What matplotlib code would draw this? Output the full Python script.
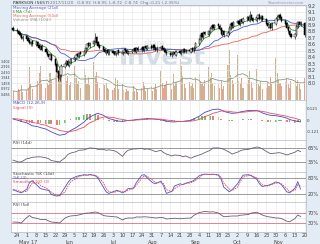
import matplotlib
matplotlib.use("Agg")
import matplotlib.pyplot as plt
import matplotlib.dates as mdates
import numpy as np
import pandas as pd

# daily candles, 21 Apr - 20 Nov 2017 (one row per week)
opens = [8.86,
         8.83, 8.81, 8.78, 8.75, 8.68,
         8.73, 8.70, 8.67, 8.60, 8.65,
         8.59, 8.64, 8.59, 8.53, 8.58,
         8.53, 8.49, 8.45, 8.38, 8.44,
         8.37, 8.29, 8.19, 8.06, 8.12,
         8.25, 8.29, 8.35, 8.27, 8.31,
         8.36, 8.39, 8.45, 8.41, 8.48,
         8.44, 8.49, 8.54, 8.62, 8.57,
         8.60, 8.64, 8.71, 8.63, 8.59,
         8.56, 8.53, 8.46, 8.51, 8.45,
         8.50, 8.48, 8.44, 8.47, 8.51,
         8.45, 8.48, 8.53, 8.51, 8.46,
         8.48, 8.50, 8.54, 8.49, 8.55,
         8.51, 8.56, 8.51, 8.57, 8.53,
         8.58, 8.54, 8.59, 8.55, 8.51,
         8.54, 8.57, 8.54, 8.52, 8.49,
         8.47, 8.43, 8.45, 8.49, 8.44,
         8.50, 8.46, 8.49, 8.53, 8.48,
         8.52, 8.49, 8.54, 8.50, 8.54,
         8.61, 8.67, 8.77, 8.71, 8.79,
         8.75, 8.79, 8.84, 8.90, 8.85,
         8.91, 8.89, 8.85, 8.75, 8.81,
         8.73, 8.77, 8.85, 8.93, 8.87,
         8.93, 8.97, 8.91, 8.99, 8.94,
         8.99, 9.03, 8.97, 9.05, 9.01,
         8.96, 9.01, 9.06, 8.99, 9.04,
         8.99, 8.93, 8.87, 8.91, 8.85,
         8.92, 8.99, 9.02, 9.06, 9.02,
         8.97, 8.93, 8.87, 8.81, 8.76,
         8.71, 8.75, 8.87, 8.95, 8.91,
         8.93]
highs = [8.88,
         8.85, 8.83, 8.80, 8.77, 8.74,
         8.75, 8.72, 8.69, 8.66, 8.67,
         8.66, 8.66, 8.61, 8.59, 8.60,
         8.55, 8.51, 8.47, 8.46, 8.46,
         8.39, 8.31, 8.21, 8.15, 8.29,
         8.33, 8.36, 8.37, 8.35, 8.39,
         8.42, 8.46, 8.47, 8.49, 8.50,
         8.52, 8.57, 8.62, 8.64, 8.64,
         8.67, 8.77, 8.73, 8.65, 8.61,
         8.58, 8.55, 8.52, 8.53, 8.51,
         8.52, 8.50, 8.50, 8.52, 8.53,
         8.50, 8.54, 8.55, 8.53, 8.51,
         8.53, 8.55, 8.56, 8.56, 8.57,
         8.57, 8.58, 8.58, 8.59, 8.59,
         8.60, 8.60, 8.61, 8.57, 8.57,
         8.58, 8.59, 8.56, 8.54, 8.51,
         8.49, 8.48, 8.50, 8.51, 8.51,
         8.52, 8.52, 8.54, 8.55, 8.53,
         8.54, 8.55, 8.56, 8.57, 8.64,
         8.70, 8.77, 8.79, 8.80, 8.81,
         8.82, 8.87, 8.91, 8.92, 8.92,
         8.93, 8.91, 8.87, 8.82, 8.83,
         8.80, 8.88, 8.94, 8.95, 8.96,
         8.98, 8.99, 9.00, 9.01, 9.02,
         9.04, 9.05, 9.12, 9.07, 9.03,
         9.04, 9.07, 9.08, 9.05, 9.06,
         9.01, 8.95, 8.92, 8.93, 8.95,
         9.02, 9.05, 9.07, 9.08, 9.04,
         8.99, 8.95, 8.89, 8.83, 8.78,
         8.78, 8.90, 8.96, 8.97, 8.97,
         8.95]
lows = [8.80,
        8.78, 8.74, 8.72, 8.68, 8.66,
        8.67, 8.64, 8.60, 8.58, 8.58,
        8.57, 8.56, 8.53, 8.51, 8.50,
        8.46, 8.42, 8.38, 8.36, 8.34,
        8.26, 8.16, 8.04, 8.04, 8.10,
        8.23, 8.27, 8.26, 8.25, 8.29,
        8.34, 8.37, 8.40, 8.39, 8.43,
        8.42, 8.47, 8.52, 8.56, 8.55,
        8.58, 8.62, 8.60, 8.56, 8.53,
        8.50, 8.46, 8.44, 8.44, 8.43,
        8.45, 8.43, 8.42, 8.45, 8.44,
        8.43, 8.46, 8.48, 8.45, 8.44,
        8.46, 8.48, 8.48, 8.47, 8.50,
        8.49, 8.50, 8.49, 8.52, 8.51,
        8.53, 8.52, 8.52, 8.50, 8.49,
        8.52, 8.51, 8.49, 8.46, 8.44,
        8.42, 8.41, 8.43, 8.43, 8.42,
        8.45, 8.44, 8.47, 8.47, 8.46,
        8.48, 8.47, 8.49, 8.48, 8.52,
        8.59, 8.65, 8.70, 8.69, 8.74,
        8.73, 8.77, 8.82, 8.84, 8.83,
        8.86, 8.82, 8.74, 8.73, 8.72,
        8.71, 8.75, 8.83, 8.86, 8.85,
        8.91, 8.90, 8.89, 8.93, 8.92,
        8.97, 8.96, 8.95, 8.98, 8.95,
        8.94, 8.99, 8.98, 8.97, 8.96,
        8.90, 8.86, 8.85, 8.84, 8.83,
        8.90, 8.97, 9.00, 8.99, 8.94,
        8.90, 8.84, 8.78, 8.73, 8.70,
        8.69, 8.73, 8.85, 8.90, 8.89,
        8.72]
closes = [8.82,
          8.80, 8.76, 8.74, 8.70, 8.72,
          8.69, 8.66, 8.62, 8.64, 8.60,
          8.63, 8.58, 8.55, 8.57, 8.52,
          8.48, 8.44, 8.40, 8.43, 8.36,
          8.28, 8.18, 8.08, 8.12, 8.27,
          8.30, 8.34, 8.28, 8.33, 8.37,
          8.40, 8.44, 8.42, 8.47, 8.45,
          8.50, 8.55, 8.60, 8.58, 8.62,
          8.65, 8.70, 8.62, 8.58, 8.55,
          8.52, 8.48, 8.50, 8.46, 8.49,
          8.47, 8.45, 8.48, 8.50, 8.46,
          8.48, 8.52, 8.50, 8.47, 8.49,
          8.51, 8.53, 8.50, 8.54, 8.52,
          8.55, 8.52, 8.56, 8.54, 8.57,
          8.55, 8.58, 8.54, 8.52, 8.55,
          8.56, 8.53, 8.51, 8.48, 8.46,
          8.44, 8.46, 8.48, 8.45, 8.49,
          8.47, 8.50, 8.52, 8.49, 8.51,
          8.50, 8.53, 8.51, 8.55, 8.62,
          8.68, 8.75, 8.72, 8.78, 8.76,
          8.80, 8.85, 8.89, 8.86, 8.90,
          8.88, 8.84, 8.76, 8.80, 8.74,
          8.78, 8.86, 8.92, 8.88, 8.94,
          8.96, 8.92, 8.98, 8.95, 9.00,
          9.02, 8.98, 9.04, 9.00, 8.97,
          9.02, 9.05, 9.00, 9.03, 8.98,
          8.92, 8.88, 8.90, 8.86, 8.93,
          9.00, 9.03, 9.05, 9.01, 8.96,
          8.92, 8.86, 8.80, 8.75, 8.72,
          8.76, 8.88, 8.94, 8.92, 8.95,
          8.74]
volume = [0.8,
          0.7, 1.0, 0.8, 1.3, 0.7,
          0.9, 1.1, 2.9, 1.4, 1.0,
          1.3, 1.7, 2.4, 3.0, 1.4,
          1.1, 1.5, 1.3, 2.4, 1.8,
          2.2, 3.4, 2.3, 2.8, 2.0,
          2.7, 1.7, 2.1, 1.3, 1.6,
          3.0, 1.9, 1.4, 1.7, 1.1,
          2.7, 2.2, 1.4, 2.0, 1.3,
          3.4, 2.1, 2.5, 1.6, 1.1,
          1.4, 1.3, 1.5, 1.1, 1.0,
          0.9, 1.1, 1.9, 1.8, 1.0,
          1.4, 0.9, 0.7, 1.0, 0.8,
          0.7, 1.2, 0.8, 1.0, 0.7,
          1.1, 1.6, 1.2, 0.8, 1.0,
          1.2, 0.8, 1.1, 1.4, 1.0,
          2.6, 1.5, 1.1, 1.3, 1.7,
          1.4, 1.0, 2.3, 1.2, 1.6,
          3.6, 3.0, 2.1, 1.4, 1.1,
          1.6, 1.2, 1.5, 1.1, 2.0,
          2.3, 1.6, 1.4, 1.2, 1.8,
          2.9, 2.0, 2.4, 1.5, 1.2,
          1.4, 1.1, 1.7, 1.0, 1.2,
          3.1, 4.4, 2.2, 1.8, 1.4,
          4.0, 1.7, 1.5, 1.9, 1.1,
          1.4, 1.8, 2.6, 1.6, 1.1,
          2.7, 1.4, 1.2, 1.7, 1.0,
          1.1, 1.6, 1.2, 2.0, 1.4,
          3.7, 2.4, 1.8, 1.5, 1.2,
          1.6, 1.9, 1.4, 1.1, 1.7,
          2.0, 1.2, 1.8, 1.4, 1.0,
          1.9]

# indicators read every second trading day
macd_line = [0.010, -0.005, -0.015, -0.030, -0.045, -0.060, -0.070, -0.080, -0.095, -0.110,
             -0.125, -0.150, -0.160, -0.150, -0.130, -0.110, -0.080, -0.060, -0.020, 0.010,
             0.030, 0.060, 0.070, 0.050, 0.030, 0.015, 0.000, -0.010, -0.015, -0.010,
             -0.005, 0.000, 0.005, 0.010, 0.012, 0.015, 0.012, 0.008, 0.003, -0.005,
             -0.015, -0.020, -0.020, -0.015, -0.015, -0.010, -0.005, 0.010, 0.040, 0.060,
             0.080, 0.100, 0.110, 0.115, 0.105, 0.090, 0.075, 0.070, 0.075, 0.085,
             0.090, 0.100, 0.100, 0.100, 0.090, 0.075, 0.055, 0.050, 0.045, 0.040,
             0.035, 0.020, 0.005, -0.010, -0.015, -0.020]
macd_signal = [0.015, 0.010, 0.005, -0.005, -0.015, -0.025, -0.035, -0.045, -0.055, -0.070,
               -0.080, -0.095, -0.110, -0.120, -0.125, -0.120, -0.110, -0.095, -0.075, -0.050,
               -0.030, -0.005, 0.015, 0.030, 0.035, 0.030, 0.025, 0.015, 0.005, 0.000,
               -0.005, -0.005, 0.000, 0.003, 0.006, 0.009, 0.011, 0.011, 0.009, 0.005,
               0.000, -0.007, -0.012, -0.015, -0.016, -0.015, -0.012, -0.007, 0.005, 0.020,
               0.035, 0.055, 0.070, 0.085, 0.095, 0.095, 0.090, 0.085, 0.080, 0.080,
               0.082, 0.088, 0.092, 0.095, 0.095, 0.090, 0.080, 0.070, 0.062, 0.055,
               0.050, 0.040, 0.030, 0.018, 0.008, 0.000]
rsi14 = [39, 35, 35, 42, 43, 45, 46, 46, 44, 42, 38, 36, 35, 44, 51, 54, 57, 60, 61, 63,
         65, 64, 62, 62, 60, 61, 59, 56, 47, 55, 60, 63, 63, 64, 62, 63, 60, 57, 60, 55,
         52, 48, 50, 49, 46, 48, 43, 46, 50, 52, 55, 60, 65, 65, 64, 62, 56, 52, 56, 59,
         61, 62, 64, 67, 66, 63, 56, 53, 54, 55, 54, 50, 52, 56, 60, 57]
stoch_k = [35, 28, 24, 38, 62, 70, 50, 40, 35, 33, 18, 12, 14, 45, 62, 75, 85, 88, 92, 90,
           93, 88, 80, 45, 28, 22, 30, 34, 24, 30, 40, 42, 62, 90, 92, 80, 62, 58, 68, 50,
           22, 30, 50, 58, 55, 60, 66, 70, 88, 92, 94, 93, 94, 90, 75, 45, 28, 36, 58, 75,
           90, 92, 88, 75, 58, 48, 52, 55, 65, 62, 55, 28, 24, 42, 66, 38]
stoch_d = [38, 32, 27, 30, 45, 60, 62, 52, 42, 36, 26, 16, 13, 28, 48, 65, 78, 85, 90, 90,
           91, 90, 84, 62, 40, 28, 26, 30, 30, 28, 34, 40, 52, 78, 88, 86, 72, 62, 62, 58,
           36, 28, 40, 52, 56, 58, 62, 67, 80, 90, 93, 93, 93, 92, 82, 60, 38, 32, 46, 66,
           82, 90, 90, 80, 66, 54, 50, 54, 60, 62, 58, 40, 28, 34, 55, 50]
rsi5 = [34, 33, 30, 52, 60, 52, 48, 44, 44, 38, 34, 32, 30, 50, 55, 58, 60, 62, 68, 70,
        70, 74, 72, 60, 58, 57, 55, 54, 42, 48, 50, 50, 54, 54, 55, 54, 52, 50, 52, 51,
        46, 48, 49, 47, 48, 49, 50, 60, 72, 74, 76, 74, 75, 70, 62, 55, 57, 58, 58, 61,
        62, 64, 70, 73, 68, 62, 55, 54, 50, 50, 48, 37, 35, 48, 62, 56]

dates = pd.bdate_range("2017-04-21", periods=len(closes))
x = mdates.date2num(dates)
x2 = x[::2]
o = np.array(opens); h = np.array(highs); l = np.array(lows); c = np.array(closes)
s = pd.Series(c)
ema7 = s.ewm(span=7, adjust=False).mean()
sma21 = s.rolling(21, min_periods=1).mean()
sma50 = s.rolling(50, min_periods=1).mean()
vol_ma = pd.Series(volume).rolling(10, min_periods=1).mean()
hist = np.array(macd_line) - np.array(macd_signal)

BG = "#e3ebf4"
GRID = "#e4e4e4"
SPINE = "#b4bcc6"
FS = 3.6

fig = plt.figure(figsize=(3.2, 2.44), dpi=100, facecolor=BG)

def rect(top, bottom):
    return [11 / 320, 1 - bottom / 244, 295 / 320, (bottom - top) / 244]

mondays = pd.date_range("2017-04-24", "2017-11-20", freq="W-MON")
xmin = mdates.date2num(pd.Timestamp("2017-04-19 12:00"))
xmax = mdates.date2num(pd.Timestamp("2017-11-21"))

def style(ax):
    ax.set_facecolor("white")
    ax.set_xlim(xmin, xmax)
    ax.set_xticks(mdates.date2num(mondays))
    ax.tick_params(axis="x", length=0, labelbottom=False)
    ax.tick_params(axis="y", length=0, labelsize=FS, pad=1, colors="#444")
    ax.grid(axis="x", color=GRID, lw=0.4)
    for sp in ax.spines.values():
        sp.set_color(SPINE)
        sp.set_linewidth(0.5)

# ---- price + volume
vax = fig.add_axes(rect(5, 100))
style(vax)
up_v = c >= o
vcol = np.where(up_v, "#c9b690", "#e3a791")
vax.bar(x, volume, width=0.8, color=vcol, lw=0)
vax.plot(x, vol_ma, color="#8d9c86", lw=0.6)
vax.set_ylim(0, 8.39)
vt = [0.486 * k for k in range(1, 8)]
vax.set_yticks(vt)
vax.set_yticklabels(["%.3f" % v for v in vt])
vax.tick_params(axis="y", labelsize=2.4, pad=0.3)
vax.text(162 / 320, 1 - 58 / 244, "Invest", transform=fig.transFigure, fontsize=18,
         fontweight="bold", color="#d3dce7", ha="center", va="center", zorder=0)
vax.text(154 / 320, 1 - 43 / 244, "share", transform=fig.transFigure, fontsize=5.5,
         color="#d8dfe8", ha="center", va="center", zorder=0)

pax = vax.twinx()
pax.set_xlim(xmin, xmax)
pax.tick_params(axis="y", length=0, labelsize=FS, pad=1, colors="#444")
for sp in pax.spines.values():
    sp.set_color(SPINE)
    sp.set_linewidth(0.5)
pt = np.round(np.arange(8.0, 9.21, 0.1), 1)
pax.set_yticks(pt)
pax.set_yticklabels(["%.1f" % v for v in pt])
pax.set_ylim(7.74, 9.21)
pax.grid(axis="y", color=GRID, lw=0.4)
pax.plot(x, sma50, color="#e2675f", lw=0.6)
pax.plot(x, sma21, color="#4c5bd4", lw=0.6)
pax.plot(x, ema7, color="#3a9a3a", lw=0.6)
pax.vlines(x, l, h, color="black", lw=0.4, zorder=3)
up = c >= o
body = np.maximum(np.abs(c - o), 0.006)
bot = np.minimum(o, c)
pax.bar(x[up], body[up], bottom=bot[up], width=0.9, color="white", edgecolor="black", lw=0.35, zorder=4)
pax.bar(x[~up], body[~up], bottom=bot[~up], width=0.9, color="black", edgecolor="black", lw=0.35, zorder=4)

fig.text(13 / 320, 1 - 2.8 / 244, "PARKSON (5657)", fontsize=3.2, color="#333", va="center")
fig.text(50 / 320, 1 - 2.8 / 244, "2017/11/20   O:8.93  H:8.95  L:8.72  C:8.74  Chg:-0.21 (-2.35%)",
         fontsize=3.0, color="#777", va="center")
fig.text(304 / 320, 1 - 2.8 / 244, "ShareInvestor.com", fontsize=2.8, color="#99a", va="center", ha="right")
leg = [("Moving Average (21d)", "#4c5bd4"), ("EMA (7d)", "#3a9a3a"),
       ("Moving Average (50d)", "#e2675f"), ("Volume (MA (10d))", "#8d9c86")]
for k, (t, col) in enumerate(leg):
    fig.text(13 / 320, 1 - (7.5 + 4.2 * k) / 244, t, fontsize=3.0, color=col, va="center")

# ---- MACD
max_ = fig.add_axes(rect(100, 140))
style(max_)
hcol = np.where(np.diff(hist, prepend=hist[0]) >= 0, "#6cc46c", "#ee7b7b")
max_.bar(x2, hist, width=1.3, color=hcol, lw=0)
max_.plot(x2, macd_line, color="#4646c8", lw=0.6)
max_.plot(x2, macd_signal, color="#e8505a", lw=0.6)
max_.set_ylim(-0.21, 0.21)
max_.yaxis.tick_right()
max_.set_yticks([0.121, 0, -0.121])
max_.set_yticklabels(["0.121", "0", "-0.121"])
max_.tick_params(axis="y", labelsize=2.8, pad=0.5)
max_.text(0.006, 0.93, "MACD (12,26,9)", transform=max_.transAxes, fontsize=3.0, color="#4646c8", va="center")
max_.text(0.006, 0.81, "Signal (9)", transform=max_.transAxes, fontsize=3.0, color="#e8505a", va="center")

# ---- RSI 14
rax = fig.add_axes(rect(140, 172))
style(rax)
rax.axhline(65, color="#8a8a8a", lw=0.6)
rax.axhline(35, color="#8a8a8a", lw=0.6)
rax.axhline(50, color="#bbbbbb", lw=0.4, ls=":")
rax.plot(x2, rsi14, color="#6b5a78", lw=0.6)
rax.set_ylim(13.6, 82)
rax.yaxis.tick_right()
rax.set_yticks([65, 35])
rax.set_yticklabels(["65%", "35%"])
rax.text(0.006, 0.9, "RSI (14d)", transform=rax.transAxes, fontsize=3.0, color="#444", va="center")

# ---- Stochastic
sax = fig.add_axes(rect(172, 202))
style(sax)
sax.axhline(80, color="#8a8a8a", lw=0.6)
sax.axhline(20, color="#8a8a8a", lw=0.6)
sax.axhline(50, color="#e0a0a8", lw=0.4, ls=":")
sax.plot(x2, stoch_k, color="#4a55c8", lw=0.6)
sax.plot(x2, stoch_d, color="#e04a5a", lw=0.6, ls=(0, (2, 1)))
sax.set_ylim(-10, 102)
sax.yaxis.tick_right()
sax.set_yticks([80, 20])
sax.set_yticklabels(["80%", "20%"])
sax.text(0.006, 0.93, "Stochastic %K (14d)", transform=sax.transAxes, fontsize=3.0, color="#444", va="center")
sax.text(0.006, 0.80, "%K (3)", transform=sax.transAxes, fontsize=3.0, color="#4a55c8", va="center")
sax.text(0.006, 0.67, "Smoothed %D (3)", transform=sax.transAxes, fontsize=3.0, color="#e04a5a", va="center")

# ---- RSI 5
bax = fig.add_axes(rect(202, 232))
style(bax)
bax.axhline(70, color="#d9708a", lw=0.6)
bax.axhline(30, color="#d9708a", lw=0.6)
bax.axhline(50, color="#bbbbbb", lw=0.4, ls=":")
bax.plot(x2, rsi5, color="#6b5a78", lw=0.6)
bax.set_ylim(-6, 114)
bax.yaxis.tick_right()
bax.set_yticks([70, 30])
bax.set_yticklabels(["70%", "30%"])
bax.text(0.006, 0.9, "RSI (5d)", transform=bax.transAxes, fontsize=3.0, color="#444", va="center")
bax.tick_params(axis="x", labelbottom=True, labelsize=FS, pad=1, colors="#444")
bax.set_xticklabels([str(d.day) for d in mondays])
months = [("2017-05-02", "May 17"), ("2017-06-01", "Jun"), ("2017-07-03", "Jul"),
          ("2017-08-01", "Aug"), ("2017-09-01", "Sep"), ("2017-10-02", "Oct"),
          ("2017-11-01", "Nov")]
for d, t in months:
    bax.text(mdates.date2num(pd.Timestamp(d)), -0.34, t, transform=bax.get_xaxis_transform(),
             fontsize=FS, color="#444", ha="center", va="center")

fig.savefig("out.png", dpi=100, facecolor=BG)
